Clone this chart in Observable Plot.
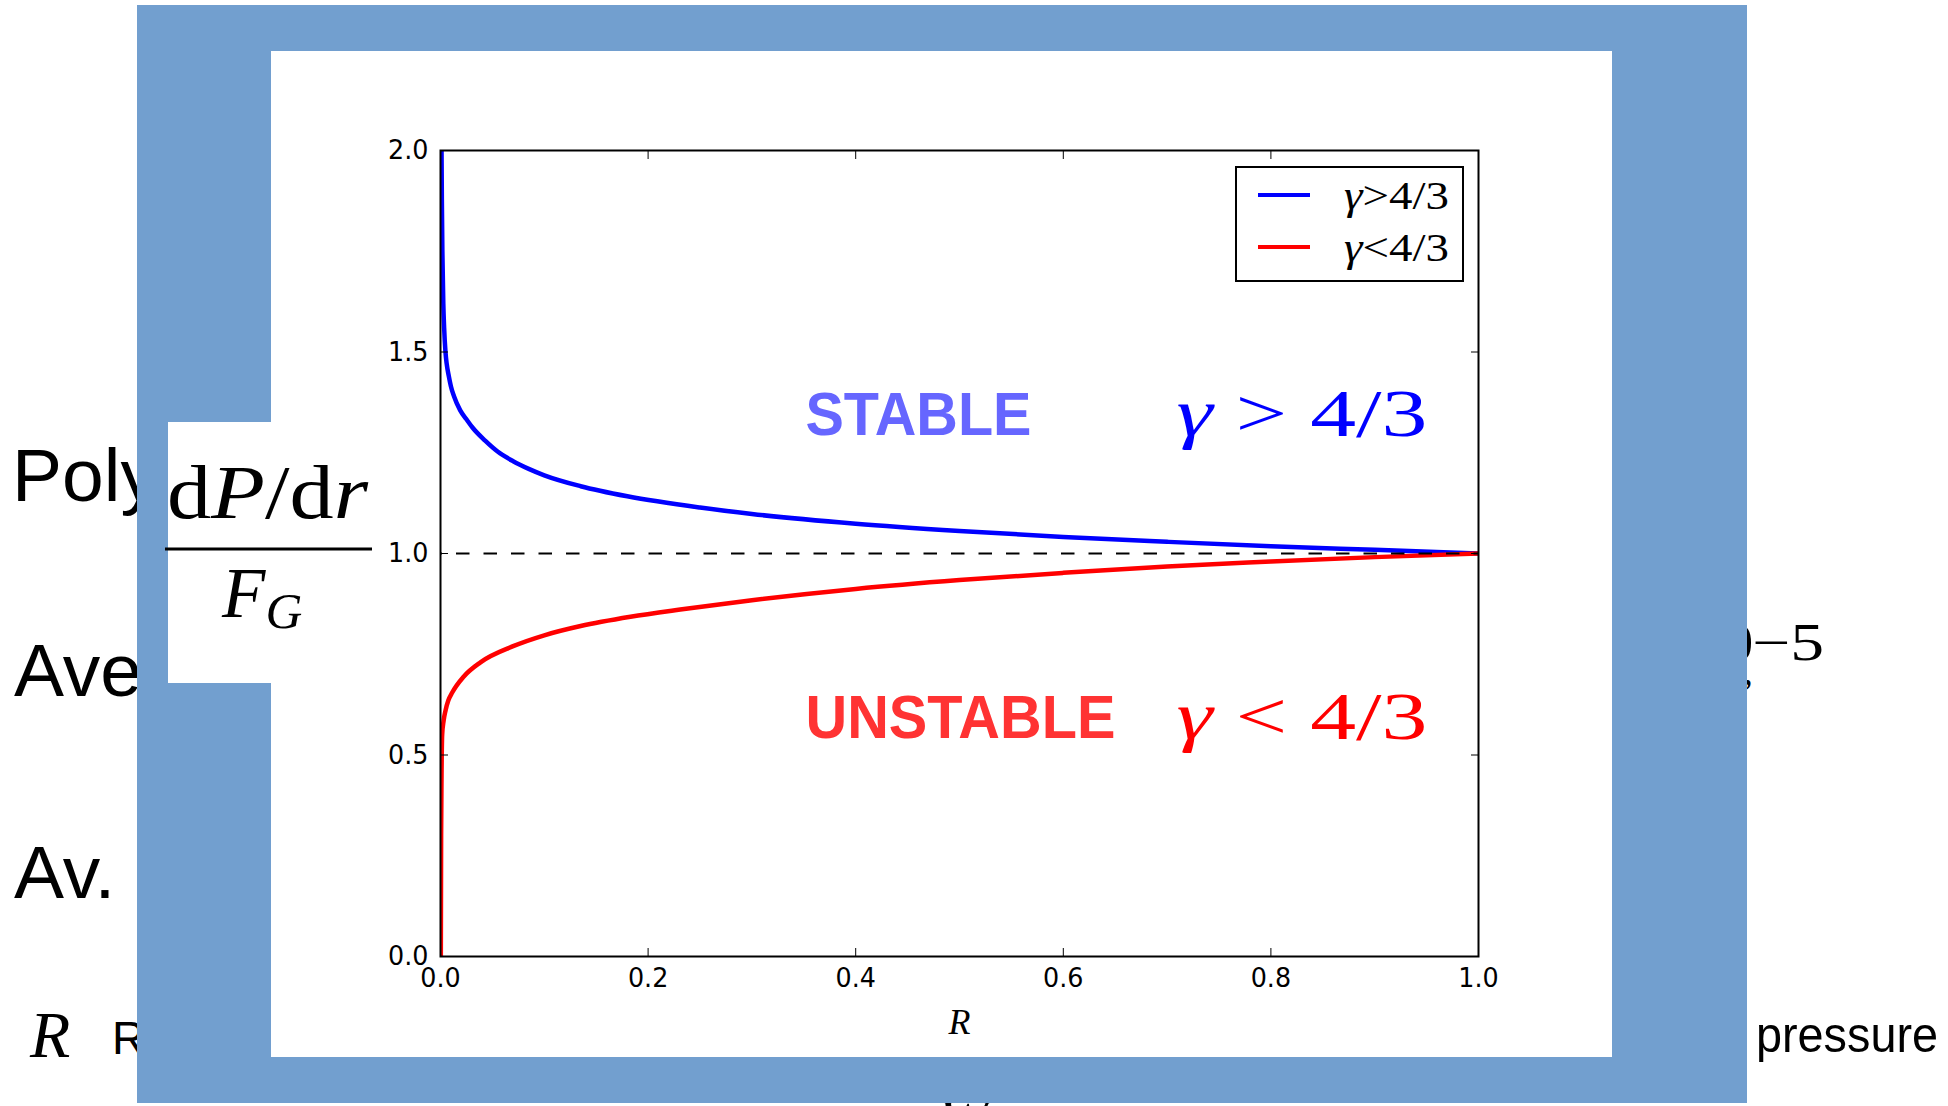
<!DOCTYPE html>
<html>
<head>
<meta charset="utf-8">
<script src="https://cdn.jsdelivr.net/npm/d3@7"></script>
<script src="https://cdn.jsdelivr.net/npm/@observablehq/plot@0.6"></script>
<style>
html,body{margin:0;padding:0;background:#fff;}
#stage{position:relative;width:1948px;height:1106px;overflow:hidden;}
#stage > svg{position:absolute;left:0;top:0;}
.serif{font-family:"Liberation Serif","DejaVu Serif",serif;}
</style>
</head>
<body>
<div id="stage">
<svg id="bg" width="1948" height="1106" xmlns="http://www.w3.org/2000/svg">
  <!-- slide text behind the figure -->
  <g font-family="Liberation Sans" fill="black">
    <text x="12" y="501" font-size="75">Polytropic</text>
    <text x="14" y="696" font-size="75">Average</text>
    <text x="14" y="898" font-size="75">Av.</text>
    <text x="112" y="1054" font-size="46">Radius</text>
    <text x="1756" y="1052" font-size="50" textLength="182" lengthAdjust="spacingAndGlyphs">pressure</text>
  </g>
  <g class="serif" fill="black">
    <text x="30" y="1057" font-size="66" font-style="italic">R</text>
    <text x="1753" y="660" font-size="52" text-anchor="end">10</text>
    <text x="1752" y="660" font-size="52" textLength="72" lengthAdjust="spacingAndGlyphs">−5</text>
    <text x="1743" y="684" font-size="40">,</text>
    <text x="938" y="1140" font-size="60" font-style="italic">W</text>
  </g>
  <!-- frame -->
  <rect x="137" y="5" width="1610" height="1098" fill="#729fcf"/>
  <rect x="271" y="51" width="1341" height="1006" fill="#ffffff"/>
  <rect x="168" y="422" width="103" height="261" fill="#ffffff"/>
  <!-- y label -->
  <g class="serif" fill="black">
    <text x="167" y="518" font-size="76" textLength="201" lengthAdjust="spacingAndGlyphs">d<tspan font-style="italic">P</tspan>/d<tspan font-style="italic">r</tspan></text>
    <text x="222" y="617" font-size="71" font-style="italic">F<tspan font-size="51" dy="11">G</tspan></text>
  </g>
  <line x1="165" x2="372" y1="549" y2="549" stroke="black" stroke-width="3"/>
</svg>
</div>
<script>
// ---- data ----
const blueR = [0.001, 0.0013, 0.0018, 0.0027, 0.0035, 0.0048, 0.006, 0.008, 0.01, 0.013, 0.019, 0.025, 0.031, 0.043, 0.055, 0.07, 0.085, 0.1, 0.135, 0.18, 0.25, 0.3, 0.4, 0.5, 0.6, 0.7, 0.8, 0.9, 1.0];
const blueV = [2.0, 1.88, 1.75, 1.62, 1.56, 1.50, 1.47, 1.44, 1.415, 1.39, 1.355, 1.333, 1.312, 1.28, 1.253, 1.229, 1.21, 1.194, 1.167, 1.142, 1.114, 1.098, 1.074, 1.056, 1.041, 1.029, 1.018, 1.009, 1.0];
const redR = [0.0003, 0.0006, 0.001, 0.0016, 0.003, 0.0048, 0.0075, 0.0113, 0.0225, 0.0385, 0.07, 0.1, 0.135, 0.183, 0.231, 0.3, 0.4, 0.5, 0.6, 0.7, 0.8, 0.9, 1.0];
const redV = [0.0, 0.30, 0.45, 0.55, 0.585, 0.61, 0.635, 0.655, 0.695, 0.73, 0.77, 0.797, 0.82, 0.843, 0.861, 0.884, 0.912, 0.934, 0.952, 0.968, 0.98, 0.991, 1.0];
const seriesNames = ["γ > 4/3", "γ < 4/3"];
const seriesColors = ["#0000ff", "#ff0000"];
const referenceV = [1.0];
const xTicks = [0, 0.2, 0.4, 0.6, 0.8, 1.0];
const xTickLabels = ["0.0", "0.2", "0.4", "0.6", "0.8", "1.0"];
const yTicks = [0, 0.5, 1.0, 1.5, 2.0];
const yTickLabels = ["0.0", "0.5", "1.0", "1.5", "2.0"];
const regionLabels = ["STABLE", "UNSTABLE"];
const regionColors = ["#6666ff", "#ff3333"];
const regionR = [0.3516, 0.3516];
const regionV = [1.293, 0.543];
const condR = [0.709, 0.709];
const condV = [1.292, 0.54];
const xLabel = ["R"];

// ---- tables built from the arrays ----
const blue = blueR.map((r, i) => ({R: r, v: blueV[i]}));
const red = redR.map((r, i) => ({R: r, v: redV[i]}));
const regions = regionLabels.map((t, i) => ({R: regionR[i], v: regionV[i], t, c: regionColors[i]}));
const conds = seriesNames.map((t, i) => ({R: condR[i], v: condV[i], t, c: seriesColors[i]}));

const serifFamily = "'Liberation Serif', 'DejaVu Serif', serif";

const plot = Plot.plot({
  width: 1948, height: 1106,
  marginLeft: 440, marginRight: 470, marginTop: 150, marginBottom: 150,
  x: {domain: [0, 1]},
  y: {domain: [0, 2]},
  color: {type: "identity"},
  style: {background: "transparent", fontFamily: "DejaVu Sans", fontSize: "27px", color: "black", overflow: "visible"},
  marks: [
    Plot.line(blue, {x: "R", y: "v", stroke: seriesColors[0], strokeWidth: 4.5, curve: "monotone-x", clip: true}),
    Plot.line(red, {x: "R", y: "v", stroke: seriesColors[1], strokeWidth: 4.5, curve: "monotone-x", clip: true}),
    Plot.ruleY(referenceV, {stroke: "black", strokeWidth: 2, strokeDasharray: "13.5,14", strokeDashoffset: 11.5}),
    Plot.text(regions, {x: "R", y: "v", text: "t", fill: "c", textAnchor: "start", lineAnchor: "bottom",
      fontFamily: "Liberation Sans", fontWeight: "bold", fontSize: 62}),
    Plot.text(conds, {x: "R", y: "v", text: "t", fill: "c", textAnchor: "start", lineAnchor: "bottom",
      fontFamily: serifFamily, fontSize: 68}),
    Plot.axisX({anchor: "bottom", ticks: xTicks, tickSize: 0, tickPadding: 11,
      tickFormat: d => xTickLabels[xTicks.indexOf(d)], label: null}),
    Plot.axisY({anchor: "left", ticks: yTicks, tickSize: 0, tickPadding: 12,
      tickFormat: d => yTickLabels[yTicks.indexOf(d)], label: null}),
    Plot.axisX({anchor: "bottom", ticks: xTicks, tickSize: 8, dy: -8, fill: "none", label: null}),
    Plot.axisX({anchor: "top", ticks: xTicks, tickSize: 8, dy: 8, fill: "none", label: null}),
    Plot.axisY({anchor: "left", ticks: yTicks, tickSize: 8, dx: 8, fill: "none", label: null}),
    Plot.axisY({anchor: "right", ticks: yTicks, tickSize: 8, dx: -8, fill: "none", label: null}),
    Plot.text(xLabel, {text: d => d, frameAnchor: "bottom", dy: 77, lineAnchor: "bottom",
      fontFamily: serifFamily, fontStyle: "italic", fontSize: 36}),
    Plot.frame({stroke: "black", strokeWidth: 2})
  ]
});

const stage = document.getElementById("stage");
stage.appendChild(plot);

// typographic adjustments (condensed matplotlib text, italic gamma)
const svgNS = "http://www.w3.org/2000/svg";
plot.querySelectorAll("text").forEach(t => {
  const s = t.textContent;
  if (s === "STABLE" || s === "UNSTABLE") {
    t.setAttribute("textLength", s === "STABLE" ? 226 : 310);
    t.setAttribute("lengthAdjust", "spacingAndGlyphs");
  } else if (seriesNames.includes(s)) {
    t.textContent = "";
    t.setAttribute("class", "serif");
    const g = document.createElementNS(svgNS, "tspan");
    g.setAttribute("font-style", "italic");
    g.textContent = s.slice(0, 1);
    const rest = document.createElementNS(svgNS, "tspan");
    rest.textContent = s.slice(1);
    t.appendChild(g); t.appendChild(rest);
    t.setAttribute("textLength", 251);
    t.setAttribute("lengthAdjust", "spacingAndGlyphs");
  } else if (xTickLabels.includes(s) || yTickLabels.includes(s)) {
    const L = t.getComputedTextLength();
    t.setAttribute("textLength", (L * 0.94).toFixed(1));
    t.setAttribute("lengthAdjust", "spacingAndGlyphs");
  }
});

// legend overlay
const fg = d3.select(stage).append("svg")
  .attr("width", 1948).attr("height", 1106)
  .style("position", "absolute").style("left", 0).style("top", 0);
fg.append("rect").attr("x", 1236).attr("y", 167).attr("width", 227).attr("height", 114)
  .attr("fill", "white").attr("stroke", "black").attr("stroke-width", 2);
seriesNames.forEach((name, i) => {
  const yy = 195 + i * 52;
  fg.append("line").attr("x1", 1258).attr("x2", 1310).attr("y1", yy).attr("y2", yy)
    .attr("stroke", seriesColors[i]).attr("stroke-width", 4);
  const tx = fg.append("text").attr("x", 1344).attr("y", yy + 14)
    .attr("class", "serif").attr("font-size", 40)
    .attr("textLength", 105).attr("lengthAdjust", "spacingAndGlyphs");
  tx.append("tspan").attr("font-style", "italic").text(name.slice(0, 1));
  tx.append("tspan").text(name.slice(1).replace(/ /g, ""));
});
</script>
</body>
</html>
